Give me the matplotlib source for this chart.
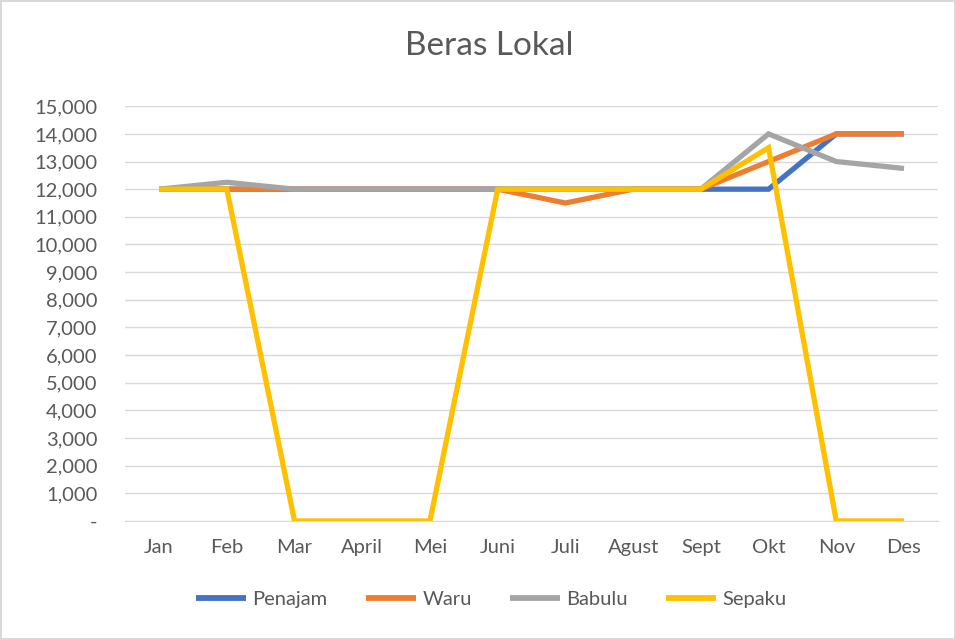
import matplotlib
matplotlib.use("Agg")
import matplotlib.pyplot as plt
from matplotlib.ticker import FuncFormatter, MultipleLocator

months = ["Jan", "Feb", "Mar", "April", "Mei", "Juni", "Juli", "Agust", "Sept", "Okt", "Nov", "Des"]
penajam = [12000, 12000, 12000, 12000, 12000, 12000, 12000, 12000, 12000, 12000, 14000, 14000]
waru = [12000, 12000, 12000, 12000, 12000, 12000, 11500, 12000, 12000, 13000, 14000, 14000]
babulu = [12000, 12250, 12000, 12000, 12000, 12000, 12000, 12000, 12000, 14000, 13000, 12750]
sepaku = [12000, 12000, 0, 0, 0, 12000, 12000, 12000, 12000, 13500, 0, 0]

series = [("Penajam", penajam, "#4472C4"), ("Waru", waru, "#ED7D31"),
          ("Babulu", babulu, "#A5A5A5"), ("Sepaku", sepaku, "#FFC000")]

plt.rcParams['font.family'] = ['Lato', 'DejaVu Sans']
txt = "#595959"

fig = plt.figure(figsize=(9.56, 6.4), dpi=100)
fig.patch.set_edgecolor("#d9d9d9")
fig.patch.set_linewidth(1.5)
ax = fig.add_axes([0.131, 0.186, 0.85, 0.648])

x = list(range(len(months)))
for name, vals, col in series:
    ax.plot(x, vals, color=col, lw=3.8, label=name, solid_joinstyle="miter", solid_capstyle="butt")

ax.set_xlim(-0.5, len(months) - 0.5)
ax.set_ylim(0, 15000)
ax.yaxis.set_major_locator(MultipleLocator(1000))
ax.yaxis.set_major_formatter(FuncFormatter(lambda v, p: "-" if v == 0 else f"{int(v):,}"))
ax.set_xticks(x)
ax.set_xticklabels(months)
ax.grid(axis="y", color="#d9d9d9", lw=1)
ax.set_axisbelow(True)
for s in ["top", "right", "left"]:
    ax.spines[s].set_visible(False)
ax.spines["bottom"].set_color("#d9d9d9")
ax.tick_params(length=0, labelsize=14.5, colors=txt)
ax.tick_params(axis="x", pad=13)
ax.tick_params(axis="y", pad=20)
for lab in ax.get_yticklabels():
    lab.set_horizontalalignment("right")

fig.text(0.512, 0.928, "Beras Lokal", ha="center", va="center", fontsize=24, color=txt)
leg = fig.legend(loc="center", bbox_to_anchor=(0.514, 0.064), ncol=4, frameon=False,
                 fontsize=14.5, handlelength=2.5, columnspacing=1.9, handletextpad=0.3)
for line in leg.get_lines():
    line.set_linewidth(4.2)
for t in leg.get_texts():
    t.set_color(txt)

fig.savefig("out.png", dpi=100, edgecolor=fig.get_edgecolor())
